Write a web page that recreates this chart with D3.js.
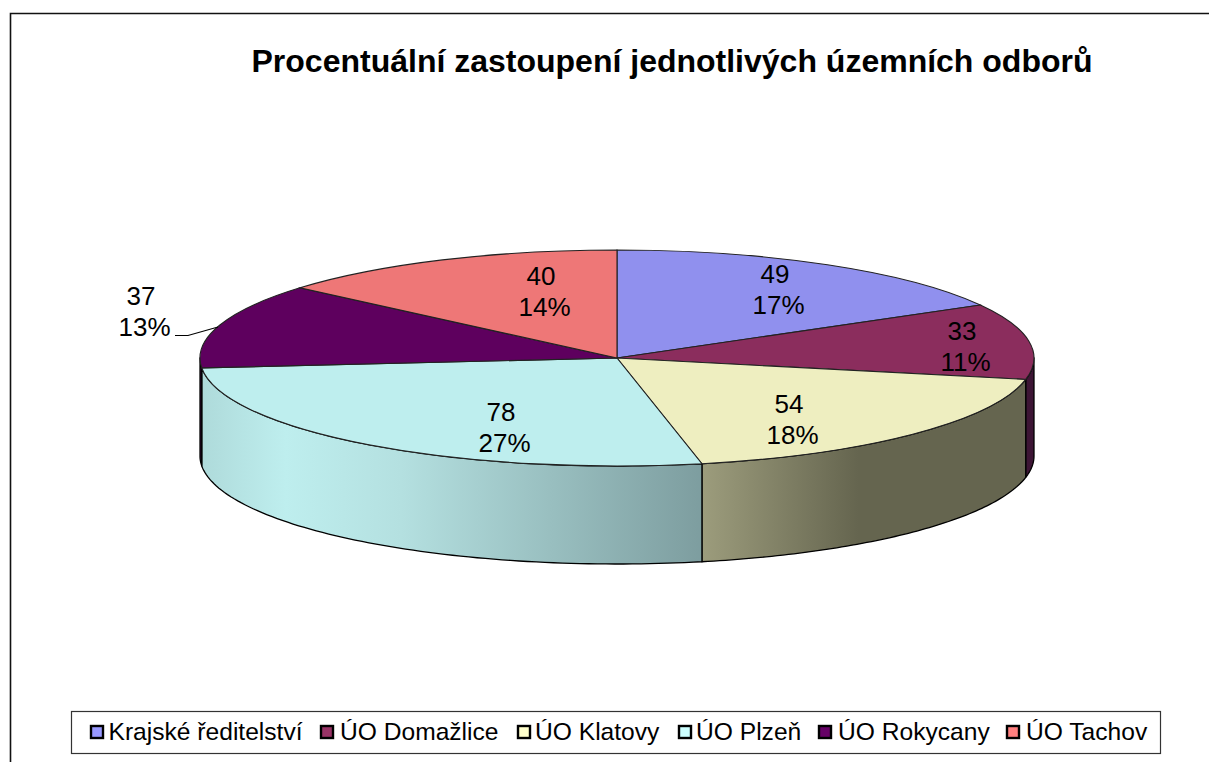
<!DOCTYPE html>
<html><head><meta charset="utf-8">
<script src="https://cdnjs.cloudflare.com/ajax/libs/d3/7.8.5/d3.min.js"></script>
<style>html,body{margin:0;padding:0;background:#fff}svg{display:block}text{font-family:"Liberation Sans",Arial,sans-serif;fill:#000}</style>
</head><body><div id="c"></div>
<script>
const categories=["Krajské ředitelství","ÚO Domažlice","ÚO Klatovy","ÚO Plzeň","ÚO Rokycany","ÚO Tachov"];
const values=[49,33,54,78,37,40];
const percentLabels=["17%","11%","18%","27%","13%","14%"];
const topColors=["#9090EE","#8B2D5D","#EEEEC0","#BEEEEE","#5E005E","#EE7777"];
const legendColors=["#9999FF","#993366","#FFFFCC","#CCFFFF","#660066","#FF8080"];
const title="Procentuální zastoupení jednotlivých územních odborů";

const W=1209,H=762,cx=617,cy=358,rx=417,ry=108,depth=98;
const svg=d3.select("#c").append("svg").attr("width",W).attr("height",H);
const defs=svg.append("defs");
const grad=(id,x1,x2,stops)=>{const g=defs.append("linearGradient").attr("id",id).attr("gradientUnits","userSpaceOnUse")
  .attr("x1",x1).attr("x2",x2).attr("y1",0).attr("y2",0);
  stops.forEach(s=>g.append("stop").attr("offset",s[0]).attr("stop-color",s[1]));};
grad("gPlzen",200,703,[[0,"#AEDADA"],[0.17,"#BEEEEE"],[0.4,"#B4E0E0"],[1,"#7D9D9F"]]);
grad("gKlatovy",703,1027,[[0,"#9C9C7C"],[0.48,"#65654F"],[1,"#65654F"]]);

// frame
svg.append("path").attr("d",`M10.5,${H}V13.5H${W}`).attr("fill","none").attr("stroke","#111").attr("stroke-width",1.6);
svg.append("text").attr("x",672).attr("y",72).attr("text-anchor","middle").attr("font-size",32).attr("font-weight","bold").text(title);

const pie=d3.pie().sort(null).value(d=>d)(values);
const px=a=>cx+rx*Math.sin(a), py=a=>cy-ry*Math.cos(a);
const line=d3.line();
function wall(a0,a1,fill){
  const n=80,top=d3.range(n+1).map(i=>{const a=a0+(a1-a0)*i/n;return [px(a),py(a)];});
  const bot=top.slice().reverse().map(p=>[p[0],p[1]+depth]);
  svg.append("path").attr("d",line(top.concat(bot))+"Z").attr("fill",fill).attr("stroke","#000").attr("stroke-width",1.3).attr("stroke-linejoin","round");
}
// visible side walls: each slice clipped to the front half of the ellipse
const fronts=[[1,"#3D1535"],[2,"url(#gKlatovy)"],[3,"url(#gPlzen)"],[4,"#3D0A3D"]];
fronts.forEach(([i,f])=>{
  const a0=Math.max(pie[i].startAngle,Math.PI/2),a1=Math.min(pie[i].endAngle,Math.PI*1.5);
  if(a1>a0) wall(a0,a1,f);
});
const arc=d3.arc().innerRadius(0).outerRadius(rx);
const g=svg.append("g").attr("transform",`translate(${cx},${cy}) scale(1,${ry/rx})`);
g.selectAll("path").data(pie).join("path").attr("d",arc).attr("fill",(d,i)=>topColors[i])
 .attr("stroke","#222").attr("stroke-width",1.1).attr("vector-effect","non-scaling-stroke");

// labels
const labelPos=[[775,283],[962,340],[789,413],[501,421],[141,305],[541,285]];
const fs=26;
pie.forEach((d,i)=>{
  const t=svg.append("text").attr("text-anchor","middle").attr("font-size",fs);
  t.append("tspan").attr("x",labelPos[i][0]).attr("y",labelPos[i][1]).text(values[i]);
  t.append("tspan").attr("x",labelPos[i][0]+3.5).attr("y",labelPos[i][1]+31).text(percentLabels[i]);
});
svg.append("path").attr("d","M175,335.5H188L218,327").attr("fill","none").attr("stroke","#000").attr("stroke-width",1.2);

// legend
svg.append("rect").attr("x",71.5).attr("y",711.5).attr("width",1089).attr("height",42).attr("fill","#fff").attr("stroke","#333").attr("stroke-width",1.2);
const swX=[91,321,518,679,819,1007],txX=[108.5,340,535,696,838,1026];
categories.forEach((c,i)=>{
  svg.append("rect").attr("x",swX[i]).attr("y",726).attr("width",12).attr("height",12).attr("fill",legendColors[i]).attr("stroke","#000").attr("stroke-width",2.4);
  svg.append("text").attr("x",txX[i]).attr("y",740).attr("font-size",24.6).text(c);
});
</script></body></html>
